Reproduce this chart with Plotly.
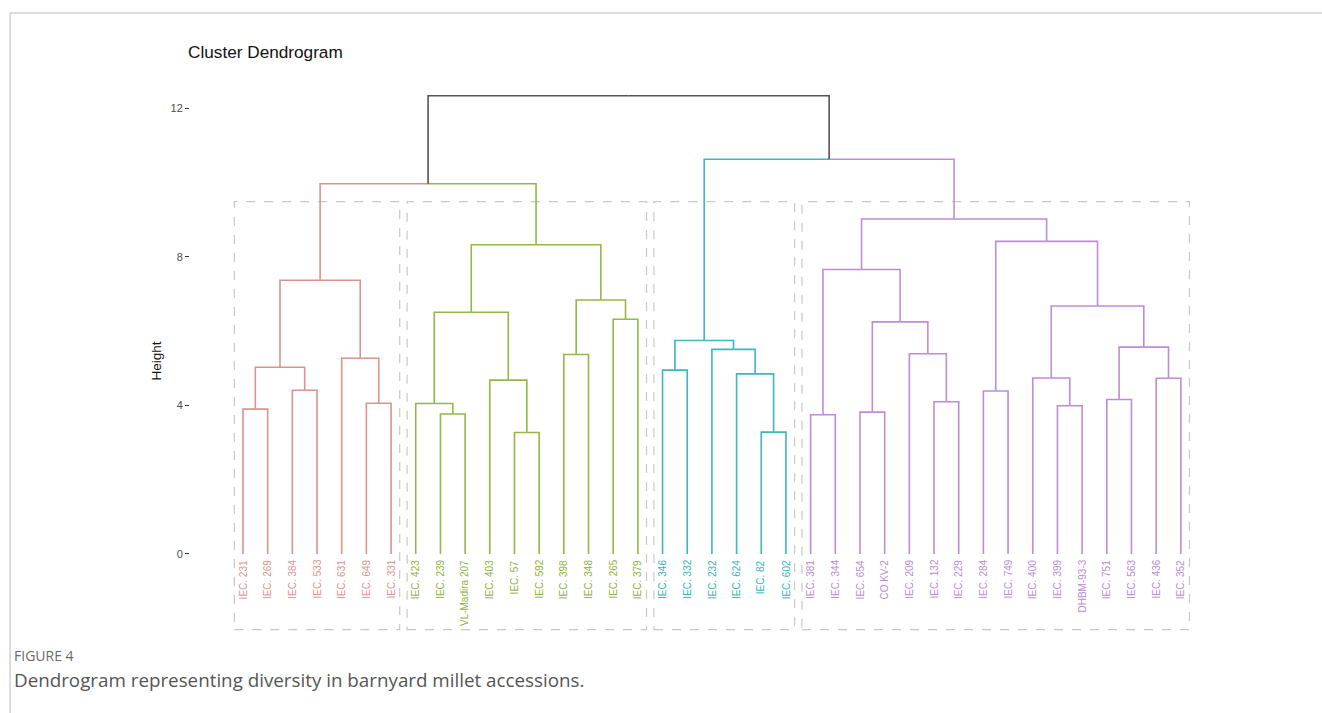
import plotly.graph_objects as go

# Accessions in dendrogram order (left to right)
leaf_labels = [
    "IEC. 231", "IEC. 269", "IEC. 384", "IEC. 533", "IEC. 631", "IEC. 649", "IEC. 331",
    "IEC. 423", "IEC. 239", "VL-Madira 207", "IEC. 403", "IEC. 57", "IEC. 592",
    "IEC. 398", "IEC. 348", "IEC. 265", "IEC. 379",
    "IEC. 346", "IEC. 332", "IEC. 232", "IEC. 624", "IEC. 82", "IEC. 602",
    "IEC. 381", "IEC. 344", "IEC. 654", "CO KV-2", "IEC. 209", "IEC. 132", "IEC. 229",
    "IEC. 284", "IEC. 749", "IEC. 400", "IEC. 399", "DHBM-93-3", "IEC. 751",
    "IEC. 563", "IEC. 436", "IEC. 352",
]
leaf_cluster = [0] * 7 + [1] * 10 + [2] * 6 + [3] * 16

# hclust-style merge table: negative = leaf (1-based), positive = earlier merge step
merge_left = [-1, -3, 1, -6, -5, 3,
              -9, -8, -12, -11, 8, -14, -16, 12, 11,
              6,
              -18, -22, -21, -20, 17,
              -24, -26, -29, -28, 23, 22, -31, -34, -33, -36, -38, 31, 30, 28, 27,
              21, 16]
merge_right = [-2, -4, 2, -7, 4, 5,
               -10, 7, -13, 9, 10, -15, -17, 13, 14,
               15,
               -19, -23, 18, 19, 20,
               -25, -27, -30, 24, 25, 26, -32, -35, 29, -37, -39, 32, 33, 34, 35,
               36, 37]
merge_height = [3.90, 4.41, 5.03, 4.06, 5.27, 7.37,
                3.77, 4.05, 3.27, 4.68, 6.51, 5.37, 6.32, 6.84, 8.33,
                9.97,
                4.95, 3.28, 4.85, 5.51, 5.75,
                3.75, 3.82, 4.10, 5.39, 6.25, 7.66, 4.39, 3.99, 4.74, 4.16, 4.73,
                5.57, 6.68, 8.42, 9.02,
                10.63, 12.34]

y_ticks = [0, 4, 8, 12]

branch_colors = ["#DA938D", "#92B846", "#3BB8BA", "#BC8DD6"]
label_colors = ["#D9958F", "#8DB33A", "#33B5B8", "#B98BD3"]
trunk_color = "#555555"

# ---- node layout -------------------------------------------------------
def node(ref, xs, hs, cl):
    if ref < 0:
        i = -ref - 1
        return float(i), 0.0, leaf_cluster[i]
    j = ref - 1
    return xs[j], hs[j], cl[j]

mx, mh, mc = [], [], []
segments = {}  # colour -> (xlist, ylist)
for a, b, h in zip(merge_left, merge_right, merge_height):
    xa, ha, ca = node(a, mx, mh, mc)
    xb, hb, cb = node(b, mx, mh, mc)
    xm = (xa + xb) / 2
    mx.append(xm)
    mh.append(h)
    mc.append(ca if ca == cb else None)
    for cx, ch, cc in ((xa, ha, ca), (xb, hb, cb)):
        col = trunk_color if cc is None else branch_colors[cc]
        xs, ys = segments.setdefault(col, ([], []))
        xs += [cx, cx, xm, None]
        ys += [ch, h, h, None]

fig = go.Figure()
for col, (xs, ys) in segments.items():
    fig.add_trace(go.Scatter(x=xs, y=ys, mode="lines",
                             line=dict(color=col, width=1.6),
                             hoverinfo="skip", showlegend=False))

# leaf labels, rotated under each branch
for i, lab in enumerate(leaf_labels):
    fig.add_annotation(x=i, y=0, text=lab, textangle=-90, showarrow=False,
                       xanchor="center", yanchor="top", yshift=-4,
                       font=dict(size=10, color=label_colors[leaf_cluster[i]],
                                 family="Liberation Sans, Arial"))

# dashed rectangles around each cluster
box_top, box_bottom, pad = 9.49, -2.04, 0.35
for c in range(len(branch_colors)):
    idx = [i for i, k in enumerate(leaf_cluster) if k == c]
    fig.add_shape(type="rect", xref="x", yref="y",
                  x0=min(idx) - pad, x1=max(idx) + pad, y0=box_bottom, y1=box_top,
                  line=dict(color="#C8C8C8", width=1.2, dash="dash"),
                  fillcolor="rgba(0,0,0,0)", layer="below")

# page frame
fig.add_shape(type="line", xref="paper", yref="paper", x0=-0.1722, x1=1.09,
              y0=1.115, y1=1.115, line=dict(color="#B8B8C6", width=1))
fig.add_shape(type="line", xref="paper", yref="paper", x0=-0.1722, x1=-0.1722,
              y0=1.115, y1=-0.13, line=dict(color="#B8B8C6", width=1))

fig.add_annotation(xref="paper", yref="paper", x=-0.0035, y=1.046,
                   text="Cluster Dendrogram", showarrow=False,
                   xanchor="left", yanchor="middle",
                   font=dict(size=17.2, color="#111111", family="Liberation Sans, Arial"))
fig.add_annotation(xref="paper", yref="paper", x=-0.0316, y=0.5,
                   text="Height", showarrow=False, textangle=-90,
                   xanchor="center", yanchor="middle",
                   font=dict(size=13.5, color="#111111", family="Liberation Sans, Arial"))
fig.add_annotation(xref="paper", yref="paper", x=-0.1703, y=-0.023,
                   text="FIGURE 4", showarrow=False,
                   xanchor="left", yanchor="middle",
                   font=dict(size=14, color="#6A6A6A", family="Open Sans"))
fig.add_annotation(xref="paper", yref="paper", x=-0.1703, y=-0.0655,
                   text="Dendrogram representing diversity in barnyard millet accessions.",
                   showarrow=False, xanchor="left", yanchor="middle",
                   font=dict(size=18.8, color="#555555", family="Open Sans"))

fig.update_layout(
    width=1322, height=713,
    margin=dict(l=190, r=87, t=78, b=70),
    paper_bgcolor="white", plot_bgcolor="white",
    showlegend=False,
    xaxis=dict(range=[-2.147, 40.195], visible=False, fixedrange=True),
    yaxis=dict(range=[-2.40, 12.82], tickvals=y_ticks,
               ticks="outside", ticklen=4, tickwidth=1.2, tickcolor="#333333",
               showgrid=False, zeroline=False, showline=False,
               tickfont=dict(size=11, color="#4D4D4D", family="Liberation Sans, Arial"),
               fixedrange=True),
)

fig.write_html("out.html")
